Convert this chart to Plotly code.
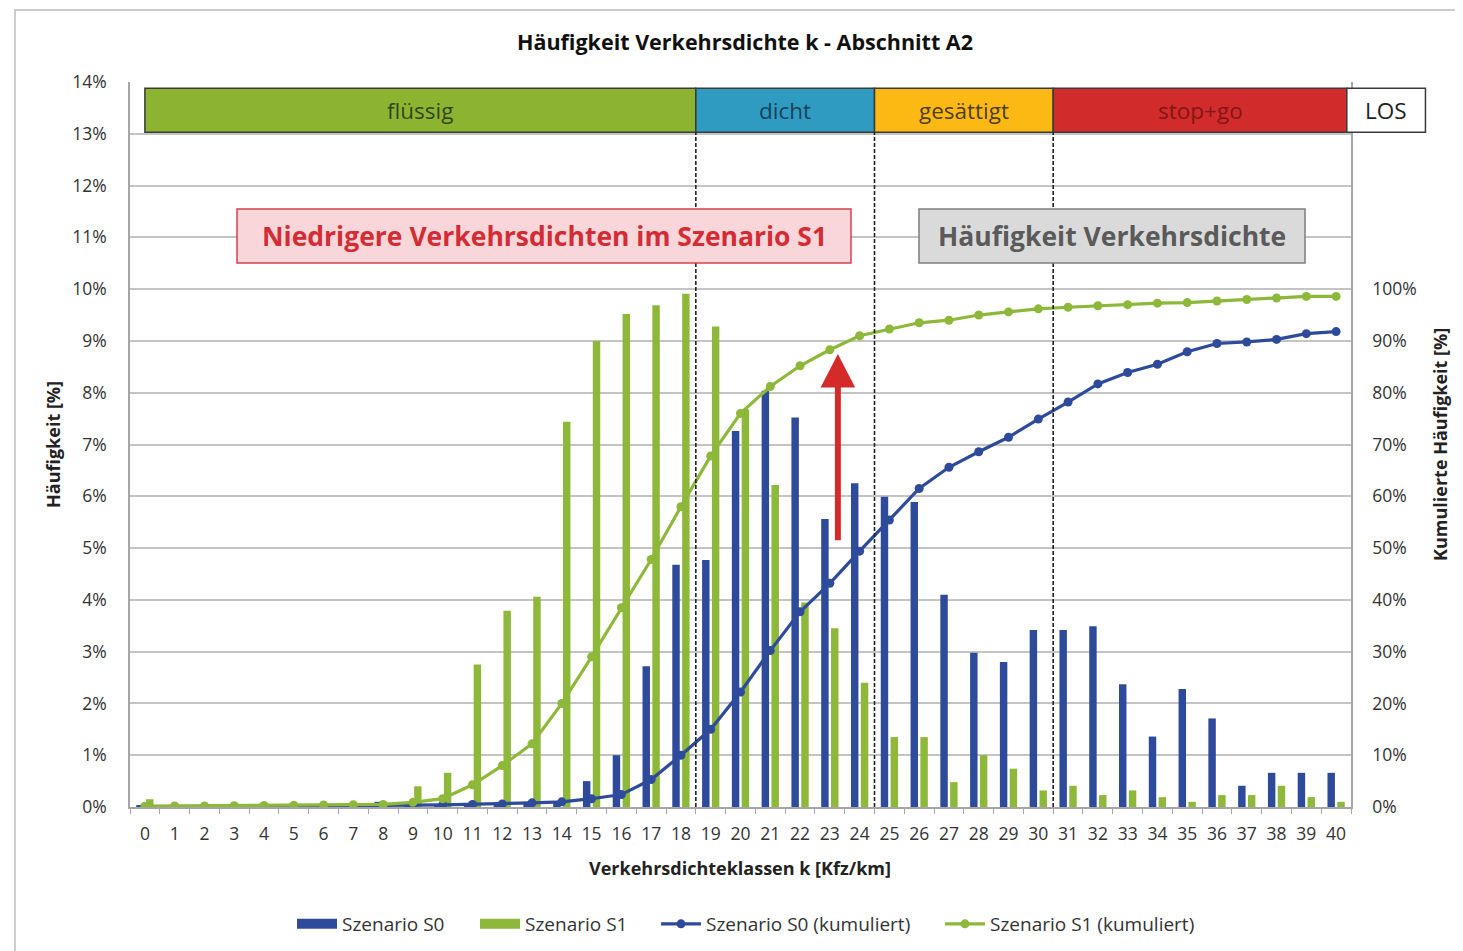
import plotly.graph_objects as go

# ---------------- data ----------------
klassen = list(range(0, 41))
s0 = [0.02, 0.02, 0.02, 0.02, 0.02, 0.03, 0.03, 0.03, 0.10, 0.05,
      0.05, 0.05, 0.05, 0.10, 0.10, 0.50, 1.00, 2.72, 4.68, 4.77,
      7.26, 8.04, 7.52, 5.56, 6.25, 5.99, 5.89, 4.10, 2.98, 2.80,
      3.42, 3.42, 3.49, 2.37, 1.36, 2.28, 1.71, 0.41, 0.66, 0.66, 0.66]
s1 = [0.15, 0.03, 0.03, 0.03, 0.03, 0.05, 0.05, 0.05, 0.05, 0.40,
      0.66, 2.75, 3.79, 4.06, 7.44, 9.00, 9.52, 9.69, 9.91, 9.28,
      7.68, 6.22, 3.95, 3.45, 2.40, 1.35, 1.35, 0.48, 1.00, 0.74,
      0.32, 0.41, 0.23, 0.32, 0.19, 0.10, 0.23, 0.23, 0.41, 0.19, 0.10]
s0_kum = [0.02, 0.04, 0.06, 0.08, 0.10, 0.13, 0.16, 0.19, 0.30, 0.35,
          0.40, 0.50, 0.60, 0.80, 1.00, 1.60, 2.40, 5.30, 10.0, 15.0,
          22.2, 30.2, 37.7, 43.2, 49.4, 55.4, 61.5, 65.6, 68.6, 71.4,
          74.9, 78.2, 81.7, 83.9, 85.5, 87.9, 89.5, 89.8, 90.3, 91.4, 91.8]
s1_kum = [0.15, 0.20, 0.20, 0.25, 0.30, 0.35, 0.40, 0.45, 0.50, 0.90,
          1.60, 4.30, 8.00, 12.2, 20.0, 29.0, 38.5, 47.8, 58.0, 67.8,
          76.0, 81.2, 85.2, 88.3, 91.0, 92.3, 93.5, 94.0, 95.0, 95.6,
          96.2, 96.5, 96.8, 97.0, 97.3, 97.4, 97.7, 98.0, 98.3, 98.6, 98.6]
left_ticks = list(range(0, 15))
right_ticks = list(range(0, 101, 10))

# LOS bands (category units)
los_labels = ["flüssig", "dicht", "gesättigt", "stop+go", "LOS"]
los_bounds = [0.0, 18.5, 24.5, 30.5, 40.36, 43.0]
los_colors = ["#8CB431", "#2F9BC0", "#FDB913", "#D22B2B", "#FFFFFF"]
los_text = ["rgba(35,50,30,0.85)", "rgba(20,40,65,0.8)", "rgba(55,45,25,0.9)",
            "rgba(120,20,20,0.9)", "#222222"]
dash_x = [18.5, 24.5, 30.5]

BLUE = "#2E4B9B"
GREEN = "#8DB83A"
FONT = "Open Sans"

OFF = 8  # page body margin offset
W, H = 1463 - OFF, 951 - OFF
L, T = 130 - OFF, 82 - OFF
R = W - (1351 - OFF)
B = H - (807 - OFF)
PW, PH = W - L - R, H - T - B
XMIN, XMAX = -0.5, 40.5
YMAX = 14.0


def px_x(v):
    return (v - XMIN) / (XMAX - XMIN)


def py(v):
    return v / YMAX


def pap_x(ref_px):
    return (ref_px - 130) / PW


def pap_y(ref_px):
    return (807 - ref_px) / PH


fig = go.Figure()
fig.add_trace(go.Bar(x=klassen, y=s0, name="Szenario S0", marker_color=BLUE,
                     width=0.25, offset=-0.29, marker_line_width=0,
                     showlegend=False, legendgroup="s0"))
fig.add_trace(go.Bar(x=klassen, y=s1, name="Szenario S1", marker_color=GREEN,
                     width=0.25, offset=0.04, marker_line_width=0,
                     showlegend=False, legendgroup="s1"))
# legend swatches for the bar series (wide rectangles as in the original)
fig.add_trace(go.Scatter(x=[None], y=[None], name="Szenario S0", mode="lines",
                         line=dict(color=BLUE, width=10), legendgroup="s0", legend="legend"))
fig.add_trace(go.Scatter(x=[None], y=[None], name="Szenario S1", mode="lines",
                         line=dict(color=GREEN, width=10), legendgroup="s1", legend="legend2"))
fig.add_trace(go.Scatter(x=klassen, y=s0_kum, name="Szenario S0 (kumuliert)", yaxis="y2",
                         mode="lines+markers", line=dict(color=BLUE, width=3.2),
                         marker=dict(color=BLUE, size=9), legend="legend3"))
fig.add_trace(go.Scatter(x=klassen, y=s1_kum, name="Szenario S1 (kumuliert)", yaxis="y2",
                         mode="lines+markers", line=dict(color=GREEN, width=3.2),
                         marker=dict(color=GREEN, size=9), legend="legend4"))

shapes = []
annotations = []

# outer chart border
shapes.append(dict(type="rect", xref="paper", yref="paper",
                   x0=pap_x(15), x1=pap_x(1475),
                   y0=pap_y(965), y1=pap_y(10),
                   line=dict(color="#BDBDBD", width=1.5), fillcolor="rgba(0,0,0,0)", layer="below"))

# LOS band
band_y0, band_y1 = 13.03, 13.88
for i, lab in enumerate(los_labels):
    x0, x1 = px_x(los_bounds[i]), px_x(los_bounds[i + 1])
    shapes.append(dict(type="rect", xref="paper", yref="paper",
                       x0=x0, x1=x1, y0=py(band_y0), y1=py(band_y1),
                       fillcolor=los_colors[i], line=dict(color="#3a3a3a", width=1.5),
                       layer="above"))
    annotations.append(dict(xref="paper", yref="paper", x=(x0 + x1) / 2,
                            y=py((band_y0 + band_y1) / 2), text=lab, showarrow=False,
                            font=dict(family=FONT, size=22.5, color=los_text[i]),
                            xanchor="center", yanchor="middle"))

for xd in dash_x:
    shapes.append(dict(type="line", xref="x", yref="y", x0=xd, x1=xd, y0=0, y1=band_y0,
                       line=dict(color="#222222", width=1.6, dash="4px,2px"), layer="above"))

# text boxes
by0, by1 = pap_y(263), pap_y(209)
shapes.append(dict(type="rect", xref="paper", yref="paper",
                   x0=pap_x(237), x1=pap_x(851), y0=by0, y1=by1,
                   fillcolor="#F9D6D9", line=dict(color="#D8404C", width=1.5), layer="above"))
annotations.append(dict(xref="paper", yref="paper", x=pap_x(544), y=(by0 + by1) / 2,
                        text="<b>Niedrigere Verkehrsdichten im Szenario S1</b>", showarrow=False,
                        font=dict(family=FONT, size=26.5, color="#D42C34"),
                        xanchor="center", yanchor="middle"))
shapes.append(dict(type="rect", xref="paper", yref="paper",
                   x0=pap_x(919), x1=pap_x(1305), y0=by0, y1=by1,
                   fillcolor="#DADADA", line=dict(color="#7F7F7F", width=1.5), layer="above"))
annotations.append(dict(xref="paper", yref="paper", x=pap_x(1112), y=(by0 + by1) / 2,
                        text="<b>Häufigkeit Verkehrsdichte</b>", showarrow=False,
                        font=dict(family=FONT, size=26.5, color="#5A5A5A"),
                        xanchor="center", yanchor="middle"))

# red arrow
ax_c = 23.27
shapes.append(dict(type="path", xref="x", yref="y",
                   path=(f"M {ax_c-0.1},5.15 L {ax_c-0.1},8.1 L {ax_c-0.58},8.1 L {ax_c},8.75 "
                         f"L {ax_c+0.58},8.1 L {ax_c+0.1},8.1 L {ax_c+0.1},5.15 Z"),
                   fillcolor="#D42A2A", line=dict(width=0), layer="above"))

# axis titles
annotations.append(dict(xref="paper", yref="paper", x=pap_x(53), y=pap_y(445),
                        text="<b>Häufigkeit [%]</b>", textangle=-90, showarrow=False,
                        font=dict(family=FONT, size=18, color="#222222"),
                        xanchor="center", yanchor="middle"))
annotations.append(dict(xref="paper", yref="paper", x=pap_x(1440), y=pap_y(445),
                        text="<b>Kumulierte Häufigkeit [%]</b>", textangle=-90, showarrow=False,
                        font=dict(family=FONT, size=18, color="#222222"),
                        xanchor="center", yanchor="middle"))
annotations.append(dict(xref="paper", yref="paper", x=pap_x(740), y=pap_y(868),
                        text="<b>Verkehrsdichteklassen k [Kfz/km]</b>", showarrow=False,
                        font=dict(family=FONT, size=18, color="#222222"),
                        xanchor="center", yanchor="middle"))

leg_common = dict(orientation="h", xanchor="left", y=pap_y(924), yanchor="middle",
                  font=dict(family=FONT, size=19, color="#333333"),
                  itemwidth=40, bgcolor="rgba(0,0,0,0)")

TICKFONT = dict(family=FONT, size=17.5, color="#333333")

fig.update_layout(
    width=W, height=H,
    margin=dict(l=L, r=R, t=T, b=B, autoexpand=False),
    paper_bgcolor="white", plot_bgcolor="white",
    font=dict(family=FONT, size=16, color="#404040"),
    title=dict(text="<b>Häufigkeit Verkehrsdichte k - Abschnitt A2</b>",
               x=(745 - OFF) / W, xanchor="center", y=1 - (42 - OFF) / H, yanchor="middle",
               font=dict(family=FONT, size=21.5, color="#111111")),
    barmode="overlay",
    showlegend=True,
    legend=dict(x=pap_x(298 - 6), **leg_common),
    legend2=dict(x=pap_x(481 - 6), **leg_common),
    legend3=dict(x=pap_x(662 - 6), **leg_common),
    legend4=dict(x=pap_x(946 - 6), **leg_common),
    xaxis=dict(range=[XMIN, XMAX], tickmode="array", tickvals=klassen,
               ticktext=[str(k) for k in klassen], ticks="", showgrid=False,
               showline=True, linecolor="#A6A6A6", linewidth=1.5,
               tickfont=TICKFONT, ticklabelstandoff=10, zeroline=False,
               minor=dict(ticks="outside", tick0=0.5, dtick=1, ticklen=5,
                          tickcolor="#A6A6A6", showgrid=False)),
    yaxis=dict(range=[0, YMAX], tickmode="array", tickvals=left_ticks,
               ticktext=[f"{v}%" for v in left_ticks], showgrid=True,
               gridcolor="#C4C4C4", gridwidth=1.5, zeroline=False,
               showline=True, linecolor="#A6A6A6", linewidth=1.5, ticks="",
               ticklabelstandoff=18, tickfont=TICKFONT),
    yaxis2=dict(range=[0, 140], overlaying="y", side="right", tickmode="array",
                tickvals=right_ticks, ticktext=[f"{v}%" for v in right_ticks],
                showgrid=False, zeroline=False, showline=True, linecolor="#A6A6A6",
                linewidth=1.5, ticks="", ticklabelstandoff=16, tickfont=TICKFONT),
    shapes=shapes,
    annotations=annotations,
)

fig.write_html("out.html")
